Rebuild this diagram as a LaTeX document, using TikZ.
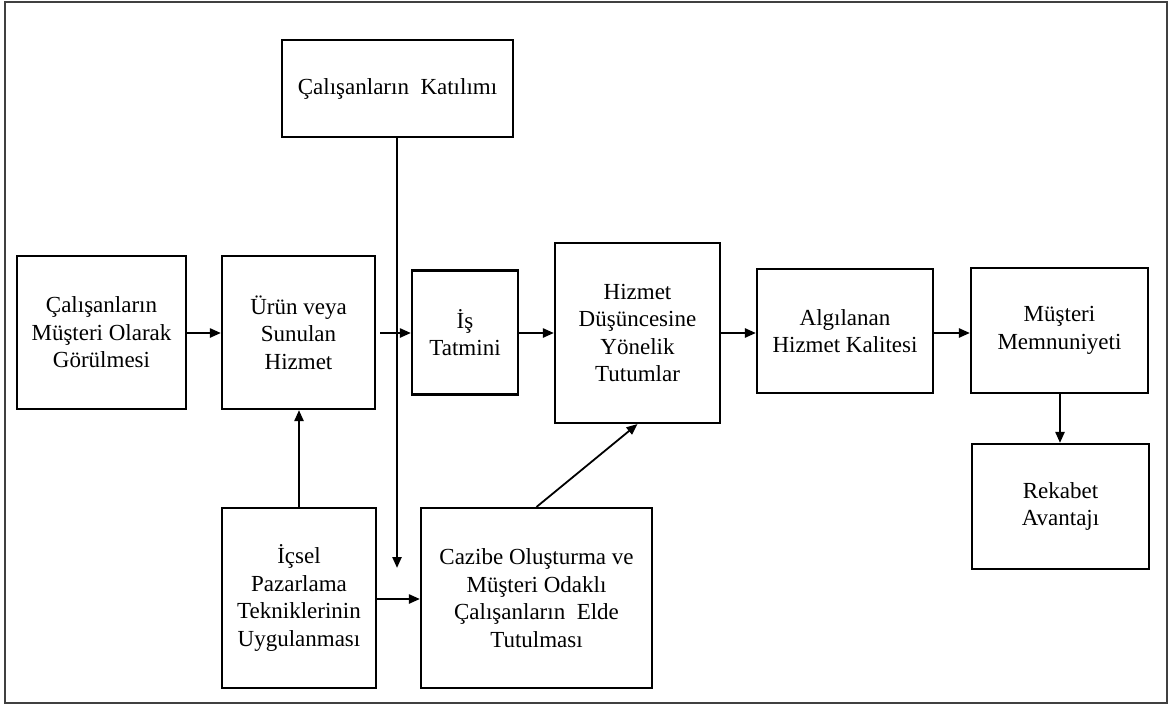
\documentclass[tikz,border=0pt]{standalone}
\usepackage{fontspec}
\setmainfont{Liberation Serif}
\usetikzlibrary{arrows.meta}
\begin{document}
\begin{tikzpicture}[x=1pt,y=-1pt,
  box/.style={draw, line width=2.1pt, inner sep=0pt, align=center,
    font=\fontsize{23}{27.5}\selectfont},
  link/.style={line width=2.3pt, -{Triangle[length=11pt,width=9pt]}}]
\useasboundingbox (0,0) rectangle (1169,706);
% outer frame
\draw[line width=1.5pt, black!75] (5,2) rectangle (1167,703);

% boxes
\node[box, minimum width=231pt, minimum height=97pt] (kat) at (397.5,88.5) {Çalışanların\ \ Katılımı};
\node[box, minimum width=169pt, minimum height=153pt] (cmo) at (101.5,332.5) {Çalışanların\\Müşteri Olarak\\Görülmesi};
\node[box, minimum width=153pt, minimum height=153pt] (urun) at (298.5,332.5) {Ürün veya\\Sunulan\\Hizmet};
\node[box, minimum width=106pt, minimum height=124pt] (is) at (465,332.5) {İş\\Tatmini};
\node[box, minimum width=165pt, minimum height=180pt] (hiz) at (637.5,333) {Hizmet\\Düşüncesine\\Yönelik\\Tutumlar};
\node[box, minimum width=176pt, minimum height=124pt] (alg) at (845,331) {Algılanan\\Hizmet Kalitesi};
\node[box, minimum width=177pt, minimum height=125pt] (mus) at (1059.5,330.5) {Müşteri\\Memnuniyeti};
\node[box, minimum width=177pt, minimum height=125pt] (rek) at (1060.5,506.5) {Rekabet\\Avantajı};
\node[box, minimum width=154pt, minimum height=180pt] (icsel) at (299,598) {İçsel\\Pazarlama\\Tekniklerinin\\Uygulanması};
\node[box, minimum width=231pt, minimum height=180pt] (caz) at (536.5,598) {Cazibe Oluşturma ve\\Müşteri Odaklı\\Çalışanların\ \ Elde\\Tutulması};

% free end of the participation line
\coordinate (katend) at (397,568);

% connectors
\draw[link] (kat.south -| katend) -- (katend);
\draw[link] (cmo.east |- 0,333) -- (urun.west |- 0,333);
\draw[link, shorten <=4pt] (urun.east |- 0,333) -- (is.west |- 0,333);
\draw[link] (is.east |- 0,333) -- (hiz.west |- 0,333);
\draw[link] (hiz.east |- 0,333) -- (alg.west |- 0,333);
\draw[link] (alg.east |- 0,333) -- (mus.west |- 0,333);
\draw[link] (mus.south -| 1060,0) -- (rek.north -| 1060,0);
\draw[link] (icsel.north) -- (urun.south -| icsel.north);
\draw[link] (icsel.east |- 0,599) -- (caz.west |- 0,599);
\draw[link, line width=1.8pt] (caz.north) -- (hiz.south);
\end{tikzpicture}
\end{document}
